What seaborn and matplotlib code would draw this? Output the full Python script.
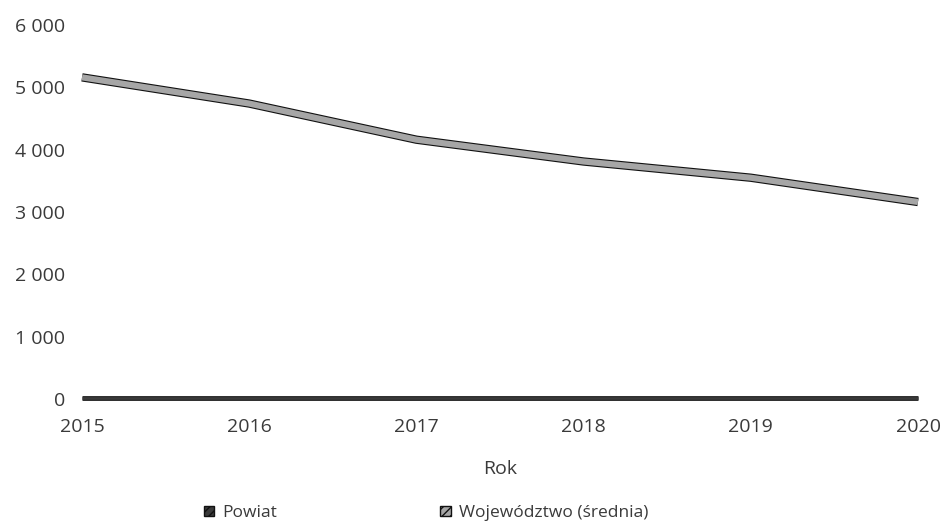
import matplotlib
matplotlib.use("Agg")
import matplotlib.pyplot as plt
import matplotlib.patheffects as pe
from matplotlib.patches import Patch
from matplotlib.ticker import FuncFormatter
import seaborn as sns
import pandas as pd

years = [2015, 2016, 2017, 2018, 2019, 2020]
powiat = [10, 10, 10, 10, 10, 10]
wojewodztwo = [5160, 4740, 4160, 3810, 3550, 3160]
series_names = ["Powiat", "Województwo (średnia)"]
y_ticks = [0, 1000, 2000, 3000, 4000, 5000, 6000]

sns.set_theme(style="white")
plt.rcParams['font.family'] = ['Open Sans', 'DejaVu Sans']

df = pd.DataFrame({
    "Rok": years * 2,
    "Wartość": powiat + wojewodztwo,
    "Seria": [series_names[0]] * len(years) + [series_names[1]] * len(years),
})

fill_colors = {series_names[0]: "#3a3a3a", series_names[1]: "#a6a6a6"}
widths = {series_names[0]: (2.0, 3.4), series_names[1]: (4.4, 6.0)}

fig = plt.figure(figsize=(9.49, 5.26), dpi=100)
ax = fig.add_axes([82 / 949, (526 - 399) / 526, (918 - 82) / 949, (399 - 25) / 526])

sns.lineplot(data=df, x="Rok", y="Wartość", hue="Seria", palette=fill_colors,
             ax=ax, linewidth=4, legend=False, solid_capstyle="butt")

for line, name in zip(ax.get_lines(), series_names):
    inner, outer = widths[name]
    line.set_linewidth(inner)
    line.set_path_effects([pe.Stroke(linewidth=outer, foreground="#111111"), pe.Normal()])
    line.set_clip_on(False)

ax.set_xlim(2015, 2020)
ax.set_ylim(0, 6000)
ax.set_xticks(years)
ax.set_yticks(y_ticks)
ax.yaxis.set_major_formatter(FuncFormatter(lambda v, p: f"{int(v):,}".replace(",", " ")))
for s in ax.spines.values():
    s.set_visible(False)
ax.tick_params(axis="both", length=0, labelsize=14, colors="#3a3a3a")
ax.tick_params(axis="y", pad=12)
ax.tick_params(axis="x", pad=14)
ax.set_ylabel("")
ax.set_xlabel("Rok", fontsize=14, color="#3a3a3a", labelpad=17)
ax.grid(False)

handles = [Patch(facecolor=fill_colors[n], edgecolor="#111111", hatch="////", label=n)
           for n in series_names]
leg = fig.legend(handles=handles, loc="center", bbox_to_anchor=(426 / 949, 1 - 513 / 526),
                 ncol=2, frameon=False, fontsize=12.5, handlelength=0.6, handleheight=0.55,
                 handletextpad=0.45, columnspacing=9.4, labelcolor="#3a3a3a")

fig.savefig("out.png", dpi=100)
